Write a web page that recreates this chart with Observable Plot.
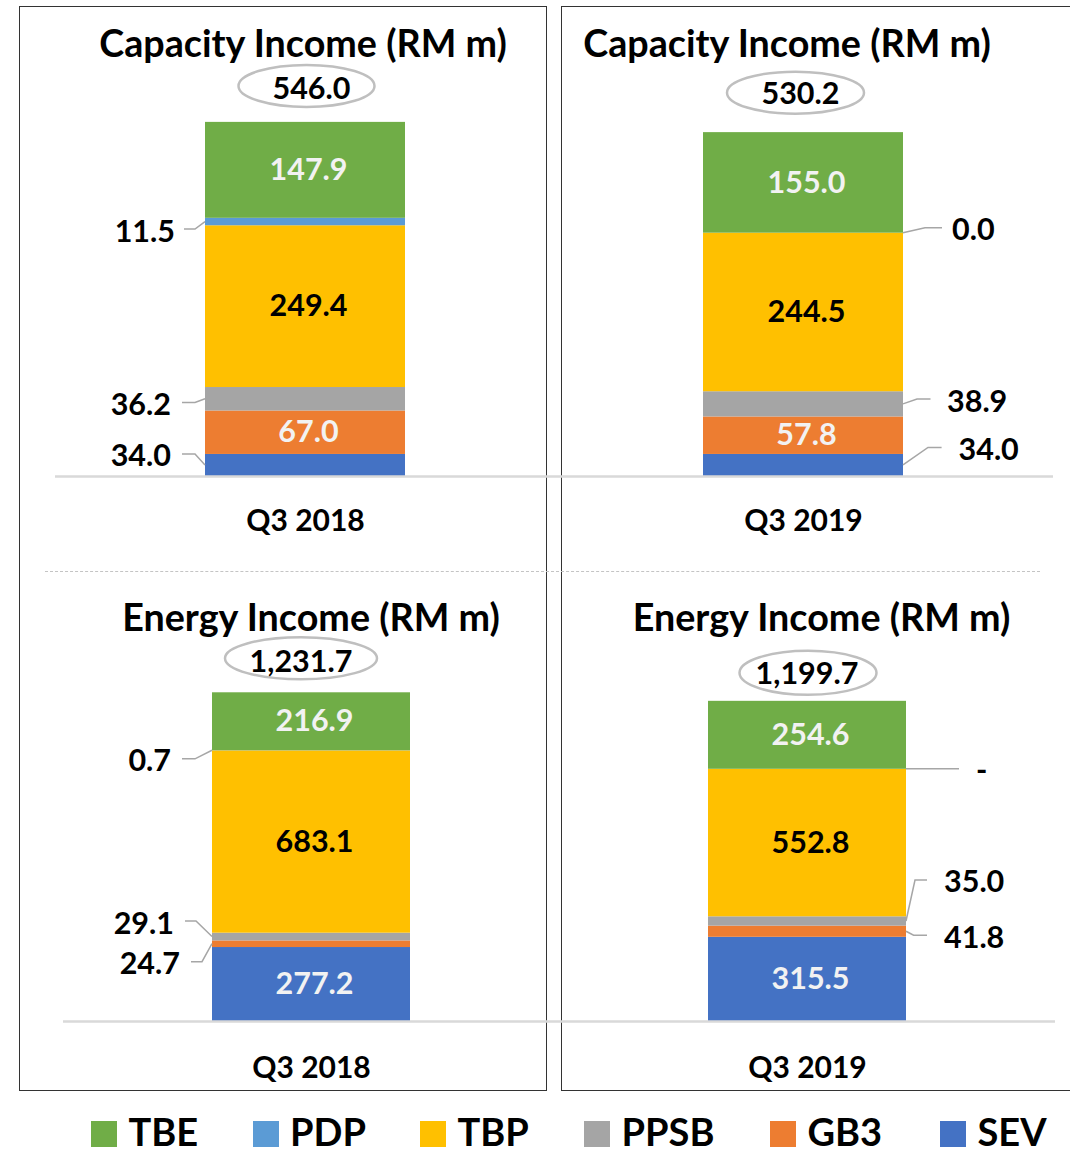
<!DOCTYPE html>
<html>
<head>
<meta charset="utf-8">
<script src="https://cdn.jsdelivr.net/npm/d3@7"></script>
<script src="https://cdn.jsdelivr.net/npm/@observablehq/plot@0.6"></script>
<style>
  html, body { margin: 0; padding: 0; background: #fff; }
  #root { position: relative; width: 1070px; height: 1155px; overflow: hidden;
          font-family: Lato, "Open Sans", sans-serif; font-weight: 700; color: #000; }
  .box { position: absolute; border: 1.5px solid #333; box-sizing: border-box; }
  .sep { position: absolute; left: 45px; width: 995px; top: 571px; border-top: 1.5px dashed #c4c4c4; }
  .chart { position: absolute; left: 0; }
  .title { position: absolute; white-space: nowrap; transform: translateX(-50%);
           font-size: 37.7px; line-height: 37.7px; }
  #legend { position: absolute; left: 0; top: 0; }
  #legend .sw { position: absolute; top: 1121px; width: 26px; height: 26px; }
  #legend .lt { position: absolute; top: 1116px; height: 30px; font-size: 38px; line-height: 30px; white-space: nowrap; }
</style>
</head>
<body>
<div id="root">
  <div class="box" style="left:19px;top:6px;width:528px;height:1085px;"></div>
  <div class="box" style="left:561px;top:6px;width:520px;height:1085px;"></div>
  <div class="sep"></div>
  <div id="capacity" class="chart" style="top:0px;"></div>
  <div id="energy" class="chart" style="top:580px;"></div>
  <div id="titles"></div>
  <div id="legend"></div>
</div>
<script>
// ---------- data ----------
const series = ["SEV", "GB3", "PPSB", "TBP", "PDP", "TBE"];          // stack order, bottom → top
const legendOrder = ["TBE", "PDP", "TBP", "PPSB", "GB3", "SEV"];
const legendColors = ["#70ad47", "#5b9bd5", "#ffc000", "#a5a5a5", "#ed7d31", "#4472c4"];
const periods = ["Q3 2018", "Q3 2019"];

const capacityQ3_2018 = [34.0, 67.0, 36.2, 249.4, 11.5, 147.9];
const capacityQ3_2019 = [34.0, 57.8, 38.9, 244.5, 0.0, 155.0];
const energyQ3_2018   = [277.2, 24.7, 29.1, 683.1, 0.7, 216.9];
const energyQ3_2019   = [315.5, 41.8, 35.0, 552.8, 0.0, 254.6];

const capacityTotals = [546.0, 530.2];
const energyTotals   = [1231.7, 1199.7];

const capacityTitle = "Capacity Income (RM m)";
const energyTitle   = "Energy Income (RM m)";

const capacityInside = ["TBE", "TBP", "GB3"];
const energyInside   = ["TBE", "TBP", "SEV"];

// ---------- annotation layout (pixel offsets) ----------
const capacityOutside = {
  "Q3 2018|PDP":  {side: "left",  elbow: [10, 7.5],   end: 21,   text: 30},
  "Q3 2018|PPSB": {side: "left",  elbow: [10, 3.8],   end: 23,   text: 34},
  "Q3 2018|SEV":  {side: "left",  elbow: [10, -11],   end: 23,   text: 34},
  "Q3 2019|PDP":  {side: "right", elbow: [22, -5],    end: 39,   text: 49},
  "Q3 2019|PPSB": {side: "right", elbow: [14, -4.8],  end: 27.5, text: 44},
  "Q3 2019|SEV":  {side: "right", elbow: [25, -17.5], end: 38.6, text: 55.5}
};
const energyOutside = {
  "Q3 2018|PDP":  {side: "left",  elbow: [17, 8.6],   end: 30, text: 41},
  "Q3 2018|PPSB": {side: "left",  elbow: [16, -15.5], end: 27, text: 38},
  "Q3 2018|GB3":  {side: "left",  elbow: [10, 18],    end: 21, text: 32},
  "Q3 2019|PDP":  {side: "right", elbow: [0, 0],      end: 53, text: 70},
  "Q3 2019|PPSB": {side: "right", elbow: [9, -41],    end: 21, text: 38},
  "Q3 2019|GB3":  {side: "right", elbow: [7.6, 4],    end: 21, text: 38}
};
const capacityTotalLayout = {
  "Q3 2018": {ex: 1.5, ey: -36, rx: 68, ry: 21, tx: 6.5, ty: -33.5},
  "Q3 2019": {ex: -7.5, ey: -39.5, rx: 68.5, ry: 21, tx: -2.5, ty: -39}
};
const energyTotalLayout = {
  "Q3 2018": {ex: -10, ey: -34, rx: 76, ry: 21, tx: -10, ty: -31},
  "Q3 2019": {ex: 1, ey: -28, rx: 68.5, ry: 22, tx: 0, ty: -28}
};
const legendX = [91, 252.6, 420, 584, 770, 940];

// ---------- helpers ----------
const fmt1 = d3.format(",.1f");
function label(chart, v) { return chart === "energy" && v === 0 ? "-" : fmt1(v); }
function table(a, b) {
  const cols = [a, b];
  return periods.flatMap((p, j) => series.map((s, i) => ({period: p, series: s, value: cols[j][i]})));
}
const FONT = "Lato, 'Open Sans', sans-serif";
const LABEL_SIZE = 30.5;

function totalsRender(data, layout) {
  return (index, scales) => {
    const g = d3.create("svg:g");
    const bw = scales.x.bandwidth();
    for (const i of index) {
      const d = data[i];
      const L = layout[d.period];
      const cx = scales.x(d.period) + bw / 2;
      const cy = scales.y(d.total);
      g.append("ellipse").attr("cx", cx + L.ex).attr("cy", cy + L.ey)
        .attr("rx", L.rx).attr("ry", L.ry)
        .attr("fill", "none").attr("stroke", "#bfbfbf").attr("stroke-width", 2.5);
      g.append("text").attr("x", cx + L.tx).attr("y", cy + L.ty).attr("dy", "0.36em")
        .attr("text-anchor", "middle").attr("font-size", LABEL_SIZE).attr("font-weight", 700)
        .attr("font-family", FONT).attr("fill", "#000").text(fmt1(d.total));
    }
    return g.node();
  };
}

function leaderRender(data, layout, chart) {
  return (index, scales, values) => {
    const g = d3.create("svg:g");
    const bw = scales.x.bandwidth();
    for (const i of index) {
      const d = data[i];
      const L = layout[d.period + "|" + d.series];
      if (!L) continue;
      const sign = L.side === "left" ? -1 : 1;
      const edge = scales.x(d.period) + (L.side === "left" ? 0 : bw);
      const ay = values.y[i];
      const ex = edge + sign * L.elbow[0], ey = ay + L.elbow[1];
      const endx = edge + sign * L.end;
      g.append("path").attr("d", `M${edge},${ay}L${ex},${ey}L${endx},${ey}`)
        .attr("fill", "none").attr("stroke", "#a6a6a6").attr("stroke-width", 1.5);
      g.append("text").attr("x", edge + sign * L.text).attr("y", ey + 1.5).attr("dy", "0.36em")
        .attr("text-anchor", L.side === "left" ? "end" : "start")
        .attr("font-size", LABEL_SIZE).attr("font-weight", 700).attr("font-family", FONT)
        .attr("fill", "#000").text(label(chart, d.value));
    }
    return g.node();
  };
}

function makeChart(cfg) {
  const {data, totals, chart, inside, outside, totalLayout} = cfg;
  return Plot.plot({
    width: 1070,
    height: cfg.height,
    marginTop: cfg.marginTop,
    marginBottom: cfg.marginBottom,
    marginLeft: cfg.marginLeft,
    marginRight: cfg.marginRight,
    style: {background: "transparent", fontFamily: FONT, fontSize: "30px", fontWeight: "bold", color: "#000", overflow: "visible"},
    x: {domain: periods, paddingInner: cfg.paddingInner, paddingOuter: cfg.paddingOuter, align: 0.5,
        tickSize: 0, tickPadding: cfg.tickPadding, label: null},
    y: {domain: cfg.yDomain, axis: null},
    color: {domain: legendOrder, range: legendColors},
    marks: [
      Plot.barY(data, {x: "period", y: "value", fill: "series"}),
      Plot.ruleY([0], {stroke: "#d9d9d9", strokeWidth: 2.5}),
      Plot.text(data, Plot.stackY({x: "period", y: "value",
        text: d => inside.includes(d.series) && d.series === "TBP" ? label(chart, d.value) : "",
        fill: "#000", dx: 3, fontSize: LABEL_SIZE, fontWeight: "bold"})),
      Plot.text(data, Plot.stackY({x: "period", y: "value",
        text: d => inside.includes(d.series) && d.series !== "TBP" ? label(chart, d.value) : "",
        fill: "#f2f2f2", dx: 3, fontSize: LABEL_SIZE, fontWeight: "bold"})),
      Plot.text(data, Plot.stackY({x: "period", y: "value", text: d => label(chart, d.value),
        render: leaderRender(data, outside, chart)})),
      Plot.text(totals, {x: "period", y: "total", text: d => fmt1(d.total),
        render: totalsRender(totals, totalLayout)})
    ]
  });
}

const capData = table(capacityQ3_2018, capacityQ3_2019);
const engData = table(energyQ3_2018, energyQ3_2019);
const capTot = periods.map((p, i) => ({period: p, total: capacityTotals[i]}));
const engTot = periods.map((p, i) => ({period: p, total: energyTotals[i]}));

document.getElementById("capacity").append(makeChart({
  data: capData, totals: capTot, chart: "capacity", inside: capacityInside,
  outside: capacityOutside, totalLayout: capacityTotalLayout,
  height: 546, marginTop: 22, marginBottom: 70, marginLeft: 55, marginRight: 17,
  paddingInner: 0.598, paddingOuter: 0.301, tickPadding: 32.7, yDomain: [0, 700]
}));
document.getElementById("energy").append(makeChart({
  data: engData, totals: engTot, chart: "energy", inside: energyInside,
  outside: energyOutside, totalLayout: energyTotalLayout,
  height: 511, marginTop: 14, marginBottom: 70, marginLeft: 63, marginRight: 15,
  paddingInner: 0.6008, paddingOuter: 0.3004, tickPadding: 34.7, yDomain: [0, 1600]
}));

// titles
const titles = [
  {text: capacityTitle, x: 303, top: 24},
  {text: capacityTitle, x: 787, top: 24},
  {text: energyTitle, x: 311, top: 598},
  {text: energyTitle, x: 821.5, top: 598}
];
const tdiv = document.getElementById("titles");
for (const t of titles) {
  const el = document.createElement("div");
  el.className = "title";
  el.style.left = t.x + "px";
  el.style.top = t.top + "px";
  el.textContent = t.text;
  tdiv.append(el);
}

// legend
const leg = document.getElementById("legend");
legendOrder.forEach((s, i) => {
  const sw = document.createElement("div");
  sw.className = "sw";
  sw.style.left = legendX[i] + "px";
  sw.style.background = legendColors[i];
  leg.append(sw);
  const lt = document.createElement("div");
  lt.className = "lt";
  lt.style.left = (legendX[i] + 37.5) + "px";
  lt.textContent = s;
  leg.append(lt);
});
</script>
</body>
</html>
